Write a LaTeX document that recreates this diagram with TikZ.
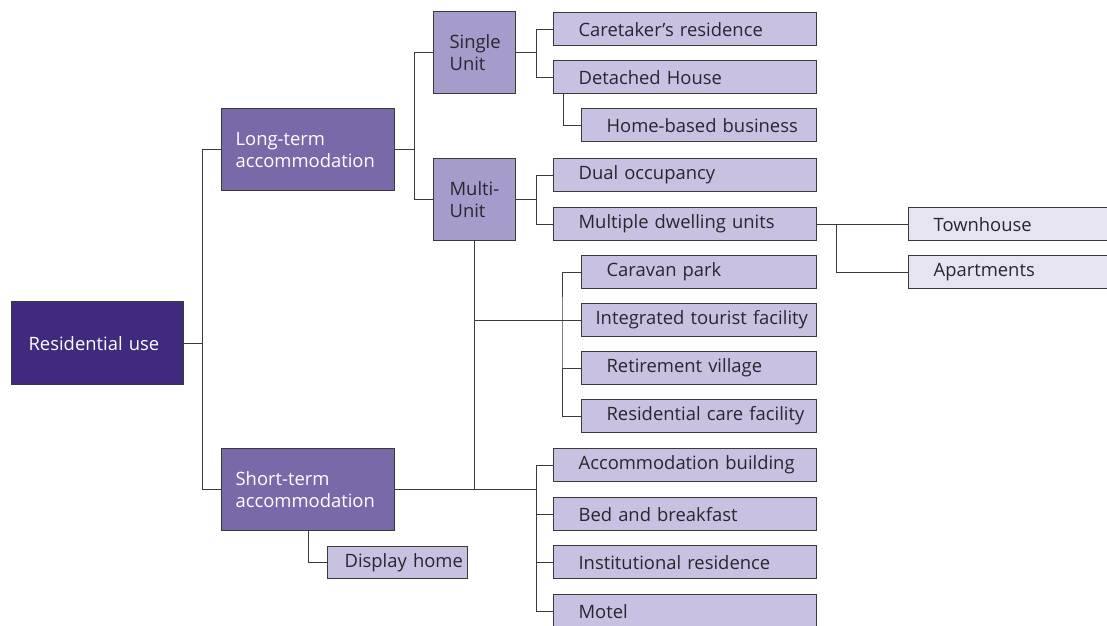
\documentclass[tikz,border=0pt]{standalone}
\usepackage{fontspec}
\setmainfont{Open Sans}
\definecolor{rootfill}{HTML}{3F2A7E}
\definecolor{termfill}{HTML}{7A69A9}
\definecolor{unitfill}{HTML}{A69CCB}
\definecolor{leaffill}{HTML}{C9C1E1}
\definecolor{palefill}{HTML}{E7E4F2}
\definecolor{edge}{HTML}{3A3A3A}
\definecolor{inkdark}{HTML}{2A2530}
\newcommand\chartfont{\fontsize{18.4}{22}\selectfont\hyphenpenalty=10000}

\begin{document}
\begin{tikzpicture}[x=1pt,y=-1pt,
  box/.style={draw=edge, line width=1.2pt, anchor=north west, align=left,
    inner ysep=0pt, text=inkdark, font=\chartfont},
  root/.style={box, fill=rootfill, text=white, inner xsep=17pt, text width=138pt, minimum height=83pt},
  term/.style={box, fill=termfill, text=white, inner xsep=14pt, text width=145pt, minimum height=82pt},
  unit/.style={box, fill=unitfill, inner xsep=16pt, text width=50pt, minimum height=82pt},
  leaf/.style 2 args={box, fill=leaffill, inner xsep=6pt, text width=#1,
    execute at begin node={\hspace*{#2}}, minimum height=33pt},
  wide/.style={leaf={251pt}{19pt}},
  narrow/.style={leaf={223pt}{19pt}},
  pale/.style={leaf={198pt}{19pt}, fill=palefill},
  link/.style={draw=edge, line width=1pt}]
  \useasboundingbox (0,0) rectangle (1107,625);

  \node[root] (res) at (11,301) {Residential use};
  \node[term] (lt) at (221,108) {Long-term\\accommodation};
  \node[term] (st) at (221,448) {Short-term\\accommodation};
  \node[unit] (su) at (433,11) {Single\\Unit};
  \node[unit] (mu) at (433,158) {Multi-\\Unit};

  \node[wide] (care) at (553,12) {Caretaker’s residence};
  \node[wide] (det) at (553,60) {Detached House};
  \node[narrow] (home) at (581,108) {Home-based business};
  \node[wide] (dual) at (553,158) {Dual occupancy};
  \node[wide] (mdu) at (553,207) {Multiple dwelling units};
  \node[pale] (town) at (908,207) {Townhouse};
  \node[pale] (apt) at (908,255) {Apartments};
  \node[narrow] (cp) at (581,255) {Caravan park};
  \node[leaf={223pt}{8pt}] (itf) at (581,303) {Integrated tourist facility};
  \node[narrow] (rv) at (581,351) {Retirement village};
  \node[narrow] (rcf) at (581,399) {Residential care facility};
  \node[wide] (acc) at (553,448) {Accommodation building};
  \node[wide] (bnb) at (553,497) {Bed and breakfast};
  \node[wide] (inst) at (553,545) {Institutional residence};
  \node[wide] (motel) at (553,594) {Motel};
  \node[leaf={134pt}{14pt}, inner xsep=3pt, minimum height=32pt] (disp) at (327,546) {Display~home};

  \coordinate (j1) at ([xshift=18pt]res.east);
  \coordinate (j2) at ([xshift=19pt]lt.east);
  \coordinate (j3) at ([xshift=20pt]su.east);
  \coordinate (j4) at ([xshift=20pt]mu.east);
  \coordinate (j5) at ([xshift=19pt]mdu.east);
  \coordinate (j6) at ([xshift=-19pt]itf.west);

  \draw[link] (res.east) -- (j1);
  \draw[link] (lt.west) -| (j1) |- (st.west);
  \draw[link] (lt.east) -- (j2);
  \draw[link] (su.west) -| (j2) |- (mu.west);
  \draw[link] (su.east) -- (j3);
  \draw[link] (care.west) -| (j3) |- (det.west);
  \draw[link] ([xshift=10pt]det.south west) |- (home.west);
  \draw[link] (mu.east) -- (j4);
  \draw[link] (dual.west) -| (j4) |- (mdu.west);
  \draw[link] (mdu.east) -- (town.west);
  \draw[link] (j5) |- (apt.west);
  \draw[link] (mu.south) -- (mu.south |- st.east);
  \draw[link] (mu.south |- itf.west) -- (itf.west);
  \draw[link] (cp.west) -| (j6) |- (rcf.west);
  \draw[link] (rv.west) -- (rv.west -| j6);
  \draw[link] (st.east) -- (st.east -| j3);
  \draw[link] (acc.west) -| (st.east -| j3) |- (motel.west);
  \draw[link] (bnb.west) -- (bnb.west -| j3);
  \draw[link] (inst.west) -- (inst.west -| j3);
  \draw[link] (st.south) |- (disp.west);
\end{tikzpicture}
\end{document}
